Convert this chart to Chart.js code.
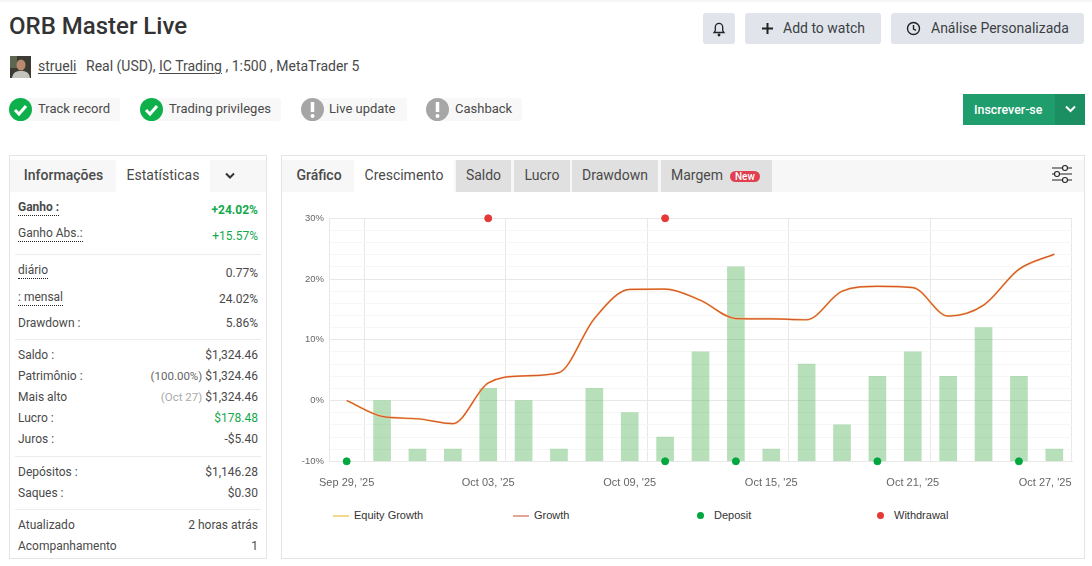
<!DOCTYPE html>
<html>
<head>
<meta charset="utf-8">
<title>ORB Master Live</title>
<script src="https://cdn.jsdelivr.net/npm/chart.js@4"></script>
<style>
  html, body { margin: 0; padding: 0; background: #fff; }
  body { width: 1092px; height: 566px; position: relative; overflow: hidden; font-family: Roboto, sans-serif; color: #4a4a4a; }
  .a { position: absolute; white-space: nowrap; }
  .topline { left: 0; top: 0; width: 1092px; height: 2px; background: #f6f6f6; }
  h1 { margin: 0; font-size: 24px; font-weight: 500; color: #333; line-height: 30px; }
  u { text-underline-offset: 2px; }
  .btn { background: #e1e5eb; border-radius: 3px; height: 31px; top: 13px; line-height: 31px; font-size: 14px; color: #3c4043; }
  .btn svg { position: absolute; top: 7px; }
  .badge { background: #f8f8f8; height: 23px; top: 98px; line-height: 22px; font-size: 13px; border-radius: 2px; }
  .badge span { position: absolute; white-space: nowrap; }
  .ico { position: absolute; top: 98px; }
  .sub { left: 963px; top: 94px; width: 122px; height: 31px; background: #1f9d6d; color: #fff; font-size: 12.4px; font-weight: 500; line-height: 31px; }
  .sub i { position: absolute; left: 92px; top: 0; width: 30px; height: 31px; background: #1b8f62; }
  .panel { border: 1px solid #e4e4e4; box-sizing: border-box; background: #fff; }
  .head { background: #f7f7f7; height: 32px; top: 160px; }
  .tab { top: 160px; height: 32px; line-height: 31px; font-size: 14px; text-align: center; background: #e0e0e0; color: #4a4a4a; }
  .tab.on { background: #fff; }
  .tab.plain { background: none; font-weight: 500; }
  .new { display: inline-block; background: #e04050; color: #fff; font-size: 10px; font-weight: 500; line-height: 11px; height: 11px; padding: 0 5px; border-radius: 6px; margin-left: 7px; vertical-align: 0; text-indent: 0; }
  .lab { left: 18px; font-size: 12px; line-height: 16px; color: #4a4a4a; }
  .lab.dot { border-bottom: 1px dotted #222; line-height: 13px; padding-bottom: 1px; }
  .val { right: 834px; font-size: 12px; line-height: 16px; color: #4a4a4a; }
  .val small { font-size: 11.5px; color: #666; }
  .val small.pale { color: #aaa; }
  .rule { left: 15px; width: 246px; height: 1px; background: #ececec; }
  #wrap { position: absolute; left: 285px; top: 200px; width: 800px; height: 300px; }
  .leg { top: 508px; font: 11px "Liberation Sans", Arial, sans-serif; line-height: 14px; color: #333; }
  .sw { top: 515px; width: 16px; height: 2px; }
  .dotk { top: 512px; width: 7px; height: 7px; border-radius: 50%; }
</style>
</head>
<body>
<div class="a topline"></div>
<h1 class="a" style="left:9px;top:11px">ORB Master Live</h1>

<div class="a btn" style="left:703px;width:32px">
  <svg style="left:9px" width="14" height="17" viewBox="0 0 14 17" fill="none" stroke="#222" stroke-width="1.3"><path d="M2 12.5h10l-1.3-2V7a3.7 3.7 0 0 0-7.4 0v3.5z"/><circle cx="7" cy="15" r=".8" fill="#222"/></svg>
</div>
<div class="a btn" style="left:745px;width:136px">
  <svg style="left:16px" width="13" height="17" viewBox="0 0 13 17"><path d="M6.5 3v11M1 8.5h11" stroke="#222" stroke-width="2"/></svg>
  <span class="a" style="left:38px">Add to watch</span>
</div>
<div class="a btn" style="left:891px;width:193px">
  <svg style="left:15px" width="15" height="17" viewBox="0 0 15 17" fill="none" stroke="#222" stroke-width="1.4"><circle cx="7.5" cy="8.5" r="6"/><path d="M7.5 5v4l2.5 1.3"/></svg>
  <span class="a" style="left:40px">Análise Personalizada</span>
</div>

<svg class="a" style="left:10px;top:56px" width="21" height="22" viewBox="0 0 21 22">
  <rect width="21" height="22" fill="#3b3a33"/><rect x="0" y="0" width="7" height="12" fill="#5c6650"/><ellipse cx="11" cy="9" rx="4.5" ry="5.5" fill="#b98a70"/><path d="M2 22c1-6 4-7 9-7s8 1 9 7z" fill="#c4c4bc"/>
</svg>
<div class="a" style="left:38px;top:58px;font-size:14px;line-height:17px"><u>strueli</u></div>
<div class="a" style="left:86px;top:58px;font-size:14px;line-height:17px">Real (USD), <u>IC Trading</u> , 1:500 , MetaTrader 5</div>

<div class="a badge" style="left:20px;width:100px"><span style="left:18px">Track record</span></div>
<div class="a badge" style="left:150px;width:131px"><span style="left:19px">Trading privileges</span></div>
<div class="a badge" style="left:305px;width:102px"><span style="left:24px">Live update</span></div>
<div class="a badge" style="left:438px;width:84px"><span style="left:17px">Cashback</span></div>
<svg class="ico" style="left:9px" width="23" height="23" viewBox="0 0 23 23"><circle cx="11.5" cy="11.5" r="11.5" fill="#0eb04c"/><path d="M6 12l4 4 7-8" fill="none" stroke="#fff" stroke-width="3"/></svg>
<svg class="ico" style="left:140px" width="23" height="23" viewBox="0 0 23 23"><circle cx="11.5" cy="11.5" r="11.5" fill="#0eb04c"/><path d="M6 12l4 4 7-8" fill="none" stroke="#fff" stroke-width="3"/></svg>
<svg class="ico" style="left:301px" width="23" height="23" viewBox="0 0 23 23"><circle cx="11.5" cy="11.5" r="11.5" fill="#a6a6a6"/><path d="M11.5 4v10" stroke="#fff" stroke-width="3.5"/><circle cx="11.5" cy="18" r="2" fill="#fff"/></svg>
<svg class="ico" style="left:426px" width="23" height="23" viewBox="0 0 23 23"><circle cx="11.5" cy="11.5" r="11.5" fill="#a6a6a6"/><path d="M11.5 4v10" stroke="#fff" stroke-width="3.5"/><circle cx="11.5" cy="18" r="2" fill="#fff"/></svg>

<div class="a sub">
  <span class="a" style="left:11px">Inscrever-se</span><i></i>
  <svg class="a" style="left:102px;top:11px" width="11" height="8" viewBox="0 0 11 8"><path d="M1 1.5l4.5 4.5L10 1.5" fill="none" stroke="#fff" stroke-width="2"/></svg>
</div>

<!-- left panel -->
<div class="a panel" style="left:9px;top:155px;width:258px;height:404px"></div>
<div class="a head" style="left:10px;width:256px"></div>
<div class="a tab plain" style="left:16px;width:95px">Informações</div>
<div class="a tab on" style="left:116px;width:94px">Estatísticas</div>
<svg class="a" style="left:225px;top:172px" width="10" height="8" viewBox="0 0 10 8"><path d="M1 1.5l4 4 4-4" fill="none" stroke="#333" stroke-width="2"/></svg>
<div id="stats"></div>

<!-- right panel -->
<div class="a panel" style="left:281px;top:155px;width:804px;height:404px"></div>
<div class="a head" style="left:282px;width:802px"></div>
<div class="a tab plain" style="left:289px;width:60px">Gráfico</div>
<div class="a tab on" style="left:354px;width:100px">Crescimento</div>
<div class="a tab" style="left:456px;width:55px">Saldo</div>
<div class="a tab" style="left:514px;width:56px">Lucro</div>
<div class="a tab" style="left:572px;width:86px">Drawdown</div>
<div class="a tab" style="left:661px;width:111px;text-align:left;text-indent:10px">Margem<span class="new">New</span></div>
<svg class="a" style="left:1051px;top:163px" width="22" height="22" viewBox="0 0 22 22" fill="#f7f7f7" stroke="#222" stroke-width="1.1"><path d="M1 5h20M1 11h20M1 17h20"/><circle cx="14" cy="5" r="2.5"/><circle cx="6" cy="11" r="2.5"/><circle cx="14" cy="17" r="2.5"/></svg>

<div id="wrap"><canvas id="growthChart"></canvas></div>

<div class="a sw" style="left:333px;background:#f5d88e"></div>
<div class="a leg" style="left:354px">Equity Growth</div>
<div class="a sw" style="left:513px;background:#e3a598"></div>
<div class="a leg" style="left:534px">Growth</div>
<div class="a dotk" style="left:697px;background:#00a63e"></div>
<div class="a leg" style="left:714px">Deposit</div>
<div class="a dotk" style="left:877px;background:#e53935"></div>
<div class="a leg" style="left:894px">Withdrawal</div>

<script>
const categories = ["Sep 29, '25", "Sep 30, '25", "Oct 01, '25", "Oct 02, '25", "Oct 03, '25", "Oct 06, '25", "Oct 07, '25",
    "Oct 08, '25", "Oct 09, '25", "Oct 10, '25", "Oct 13, '25", "Oct 14, '25", "Oct 15, '25", "Oct 16, '25", "Oct 17, '25",
    "Oct 20, '25", "Oct 21, '25", "Oct 22, '25", "Oct 23, '25", "Oct 24, '25", "Oct 27, '25"];
const tickLabels = ["Sep 29, '25", "Oct 03, '25", "Oct 09, '25", "Oct 15, '25", "Oct 21, '25", "Oct 27, '25"];
const growth = [0, -2.6, -3.0, -3.8, 2.9, 4.05, 4.6, 13.5, 18.3, 18.35, 16.5, 13.5, 13.45, 13.3, 18, 18.8, 18.6, 13.9, 15.7, 21.6, 24.1];
const equityGrowth = [0, -2.6, -3.0, -3.8, 2.9, 4.05, 4.6, 13.5, 18.3, 18.35, 16.5, 13.5, 13.45, 13.3, 18, 18.8, 18.6, 13.9, 15.7, 21.6, 24.1];
const bars = [null, 0, -8, -8, 2, 0, -8, 2, -2, -6, 8, 22, -8, 6, -4, 4, 8, 4, 12, 4, -8];
const deposits = [-10, null, null, null, null, null, null, null, null, -10, null, -10, null, null, null, -10, null, null, null, -10, null];
const withdrawals = [null, null, null, null, 30, null, null, null, null, 30, null, null, null, null, null, null, null, null, null, null, null];

// label, value, top of label, top of value, class
const statRows = [
    ['Ganho :', '+24.02%', 201, 202, 'dot bold', 'green bold'],
    ['Ganho Abs.:', '+15.57%', 227, 228, 'dot', 'green'],
    ['diário', '0.77%', 264, 265, 'dot', ''],
    [': mensal', '24.02%', 291, 291, 'dot', ''],
    ['Drawdown :', '5.86%', 315, 315, '', ''],
    ['Saldo :', '$1,324.46', 347, 347, '', ''],
    ['Patrimônio :', '<small>(100.00%)</small> $1,324.46', 368, 368, '', ''],
    ['Mais alto', '<small class="pale">(Oct 27)</small> $1,324.46', 389, 389, '', ''],
    ['Lucro :', '$178.48', 410, 410, '', 'green'],
    ['Juros :', '-$5.40', 431, 431, '', ''],
    ['Depósitos :', '$1,146.28', 464, 464, '', ''],
    ['Saques :', '$0.30', 485, 485, '', ''],
    ['Atualizado', '2 horas atrás', 517, 517, '', ''],
    ['Acompanhamento', '1', 538, 538, '', '']
];
const statRules = [254, 339, 456, 509];

const stats = document.getElementById('stats');
statRows.forEach(function(row) {
    const lab = document.createElement('div');
    lab.className = 'a lab ' + (row[4].includes('dot') ? 'dot' : '');
    lab.style.top = row[2] + 'px';
    lab.style.fontWeight = row[4].includes('bold') ? '700' : '400';
    lab.textContent = row[0];
    stats.appendChild(lab);
    const val = document.createElement('div');
    val.className = 'a val';
    val.style.top = row[3] + 'px';
    val.style.color = row[5].includes('green') ? '#12a84c' : '';
    val.style.fontWeight = row[5].includes('bold') ? '700' : '400';
    val.innerHTML = row[1];
    stats.appendChild(val);
});
statRules.forEach(function(y) {
    const r = document.createElement('div');
    r.className = 'a rule';
    r.style.top = y + 'px';
    stats.appendChild(r);
});

const gridColor = '#e8e8e8';
const ctx = document.getElementById('growthChart').getContext('2d');
new Chart(ctx, {
    type: 'bar',
    data: {
        labels: categories,
        datasets: [
            { type: 'bar', label: 'Bars', data: bars, base: -10, barThickness: 17, backgroundColor: 'rgba(76, 175, 80, 0.4)', order: 5 },
            { type: 'line', label: 'Equity Growth', data: equityGrowth, borderColor: '#f0c878', borderWidth: 2, pointRadius: 0, cubicInterpolationMode: 'monotone', order: 4 },
            { type: 'line', label: 'Growth', data: growth, borderColor: 'rgba(214, 72, 40, 0.9)', borderWidth: 1.2, pointRadius: 0, cubicInterpolationMode: 'monotone', order: 3 },
            { type: 'line', label: 'Deposit', data: deposits, showLine: false, pointRadius: 3.5, pointBackgroundColor: '#00a63e', pointBorderColor: '#00a63e', clip: false, order: 2 },
            { type: 'line', label: 'Withdrawal', data: withdrawals, showLine: false, pointRadius: 3.5, pointBackgroundColor: '#e53935', pointBorderColor: '#e53935', clip: false, order: 1 }
        ]
    },
    options: {
        responsive: true,
        maintainAspectRatio: false,
        animation: false,
        layout: { padding: { top: 18.3, right: 13, left: 0, bottom: 0 } },
        plugins: { legend: { display: false }, tooltip: { enabled: false } },
        scales: {
            x: {
                offset: true,
                afterFit: function(scale) {
                    scale.height = 38.7;
                    scale.paddingLeft = 0;
                    scale.paddingRight = 0;
                },
                border: { color: gridColor },
                grid: {
                    offset: true,
                    drawTicks: false,
                    // gridline only after every tick label, plus the closing one
                    color: function(c) {
                        if (c.index === undefined) return gridColor;
                        return (c.index - 1) % 4 === 0 ? gridColor : 'transparent';
                    }
                },
                ticks: {
                    autoSkip: false,
                    maxRotation: 0,
                    minRotation: 0,
                    padding: 15,
                    color: '#666',
                    font: { family: '"Liberation Sans", Arial, sans-serif', size: 11 },
                    callback: function(value) {
                        const label = this.getLabelForValue(value);
                        if (!tickLabels.includes(label)) return '';
                        // last label is pulled in towards the plot
                        return value === categories.length - 1 ? label + '\u00a0\u00a0\u00a0\u00a0\u00a0\u00a0' : label;
                    }
                }
            },
            y: {
                min: -10,
                max: 30,
                afterFit: function(scale) { scale.width = 44; },
                border: { color: gridColor },
                grid: {
                    drawTicks: false,
                    color: function(c) { return c.tick.value % 10 === 0 ? gridColor : '#f6f6f6'; }
                },
                ticks: {
                    stepSize: 2,
                    autoSkip: false,
                    padding: 5,
                    color: '#666',
                    font: { family: '"Liberation Sans", Arial, sans-serif', size: 9.5 },
                    callback: function(value) { return value % 10 === 0 ? value + '%' : ''; }
                }
            }
        }
    }
});
</script>
</body>
</html>
